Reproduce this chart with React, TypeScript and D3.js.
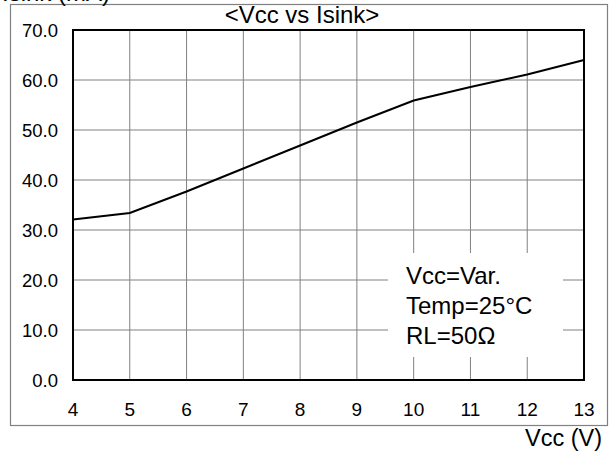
import React from "react";
import * as d3 from "d3";

const vcc = [4, 5, 6, 7, 8, 9, 10, 11, 12, 13];
const isink = [32.1, 33.4, 37.7, 42.3, 46.9, 51.5, 55.9, 58.6, 61.1, 64.0];
const xTicks = [4, 5, 6, 7, 8, 9, 10, 11, 12, 13];
const yTicks = [0, 10, 20, 30, 40, 50, 60, 70];
const legendLines = ["Vcc=Var.", "Temp=25°C", "RL=50Ω"];
const title = "<Vcc vs Isink>";
const xLabel = "Vcc (V)";
const yLabel = "Isink (mA)";

export default function App() {
  const W = 615, H = 451;
  const left = 73, right = 584, top = 30, bottom = 380;
  const x = d3.scaleLinear().domain([4, 13]).range([left, right]);
  const y = d3.scaleLinear().domain([0, 70]).range([bottom, top]);
  const line = d3.line<number>().x((_, i) => x(vcc[i])).y((d) => y(d));
  const font = "Arial, 'Liberation Sans', sans-serif";
  return (
    <svg width={W} height={H} style={{ position: "absolute", left: 0, top: 0, display: "block" }} fontFamily={font}>
      <rect x={0} y={0} width={W} height={H} fill="#fff" />
      <rect x={10.5} y={4.5} width={597} height={421} fill="none" stroke="#808080" strokeWidth={1.2} />
      {xTicks.map((t) => (
        <line key={"gx" + t} x1={x(t)} x2={x(t)} y1={top} y2={bottom} stroke="#808080" strokeWidth={1} />
      ))}
      {yTicks.map((t) => (
        <line key={"gy" + t} x1={left} x2={right} y1={y(t)} y2={y(t)} stroke="#808080" strokeWidth={1} />
      ))}
      <rect x={388} y={253} width={175} height={104} fill="#fff" />
      <rect x={left} y={top} width={right - left} height={bottom - top} fill="none" stroke="#000" strokeWidth={2} />
      <path d={line(isink) || ""} fill="none" stroke="#000" strokeWidth={2} />
      {yTicks.map((t) => (
        <text key={"ty" + t} x={58} y={y(t) + 6.5} fontSize={18.5} textAnchor="end" fill="#000">
          {t.toFixed(1)}
        </text>
      ))}
      {xTicks.map((t) => (
        <text key={"tx" + t} x={x(t)} y={416} fontSize={19} textAnchor="middle" fill="#000">
          {t}
        </text>
      ))}
      <text x={302} y={23} fontSize={24} textAnchor="middle" fill="#000">{title}</text>
      <text x={2} y={1} fontSize={24} fill="#000">{yLabel}</text>
      <text x={602} y={446} fontSize={23.5} textAnchor="end" fill="#000">{xLabel}</text>
      {legendLines.map((s, i) => (
        <text key={s} x={406} y={284 + i * 30} fontSize={24} fill="#000">{s}</text>
      ))}
    </svg>
  );
}
